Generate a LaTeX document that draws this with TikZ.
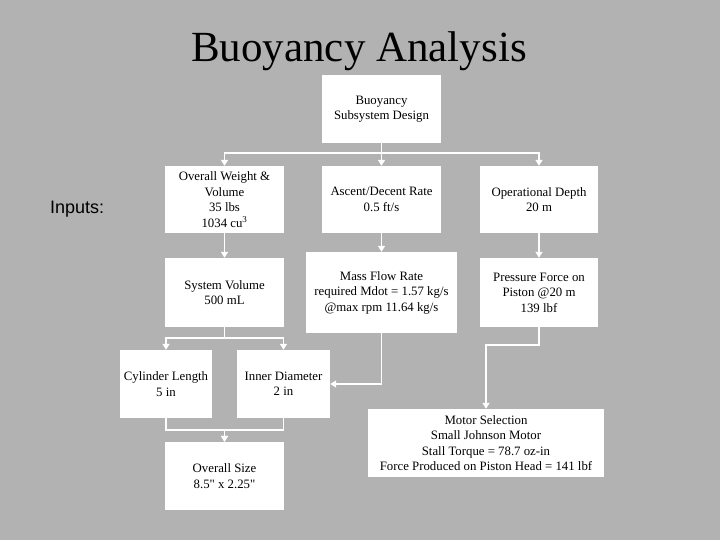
\documentclass[tikz,border=0pt]{standalone}
\usepackage{fontspec}
\setmainfont{Liberation Serif}
\newfontfamily\inputsfont{Liberation Sans}
\usetikzlibrary{arrows.meta}
\definecolor{slidegray}{RGB}{178,178,178}
\tikzset{
	boxstyle/.style={rectangle,fill=white,inner sep=0pt,align=center,font=\fontsize{12.8}{15.5}\selectfont},
	linkstyle/.style={draw=white,line width=1.5pt},
	arrowstyle/.style={linkstyle,-{Triangle[width=7pt,length=6pt]}}
}
\begin{document}
\begin{tikzpicture}[x=1pt,y=-1pt]
		\fill[slidegray] (0,0) rectangle (720,540);
		\useasboundingbox (0,0) rectangle (720,540);
		\node[anchor=base] (title) at (359,62) {\fontsize{43}{50}\selectfont Buoyancy Analysis};
		\node[anchor=base west,inner sep=0pt] (inputs) at (50,214) {\inputsfont\fontsize{18}{20}\selectfont Inputs:};
		\node[boxstyle,minimum width=119pt,minimum height=68pt] (top) at (381.5,109) {Buoyancy\\Subsystem Design};
		\node[boxstyle,minimum width=119pt,minimum height=67pt] (weight) at (224.5,199.5) {Overall Weight \&\\Volume\\35 lbs\\1034 cu\textsuperscript{3}};
		\node[boxstyle,minimum width=119pt,minimum height=67pt] (rate) at (381.5,199.5) {Ascent/Decent Rate\\0.5 ft/s};
		\node[boxstyle,minimum width=118pt,minimum height=67pt] (depth) at (539,199.5) {Operational Depth\\20 m};
		\node[boxstyle,minimum width=119pt,minimum height=69pt] (sysvol) at (224.5,292.5) {System Volume\\500 mL};
		\node[boxstyle,minimum width=151pt,minimum height=81pt] (flow) at (381.5,292.5) {Mass Flow Rate\\required Mdot = 1.57 kg/s\\@max rpm 11.64 kg/s};
		\node[boxstyle,minimum width=118pt,minimum height=69pt] (force) at (539,292.5) {Pressure Force on\\Piston @20 m\\139 lbf};
		\node[boxstyle,minimum width=92pt,minimum height=68pt] (cyl) at (166,384) {Cylinder Length\\5 in};
		\node[boxstyle,minimum width=93pt,minimum height=68pt] (diam) at (283.5,384) {Inner Diameter\\2 in};
		\node[boxstyle,minimum width=236pt,minimum height=68pt] (motor) at (486,443) {Motor Selection\\Small Johnson Motor\\Stall Torque = 78.7 oz-in\\Force Produced on Piston Head = 141 lbf};
		\node[boxstyle,minimum width=119pt,minimum height=68pt] (size) at (224.5,476) {Overall Size\\8.5\textquotedbl{} x 2.25\textquotedbl};
		\draw[arrowstyle] (top.south) -- ++(0,10) -| (weight);
		\draw[arrowstyle] (top.south) -- (rate);
		\draw[arrowstyle] (top.south) -- ++(0,10) -| (depth);
		\draw[arrowstyle] (weight) -- (sysvol);
		\draw[arrowstyle] (rate) -- (flow);
		\draw[arrowstyle] (depth) -- (force);
		\draw[arrowstyle] (sysvol.south) -- ++(0,11) -| (cyl);
		\draw[arrowstyle] (sysvol.south) -- ++(0,11) -| (diam);
		\draw[arrowstyle] (flow.south) |- (diam.east);
		\draw[arrowstyle] (force.south) -- ++(0,18) -| (motor);
		\draw[arrowstyle] (cyl.south) -- ++(0,12) -| (size);
		\draw[arrowstyle] (diam.south) -- ++(0,12) -| (size);
		\end{tikzpicture}
\end{document}
